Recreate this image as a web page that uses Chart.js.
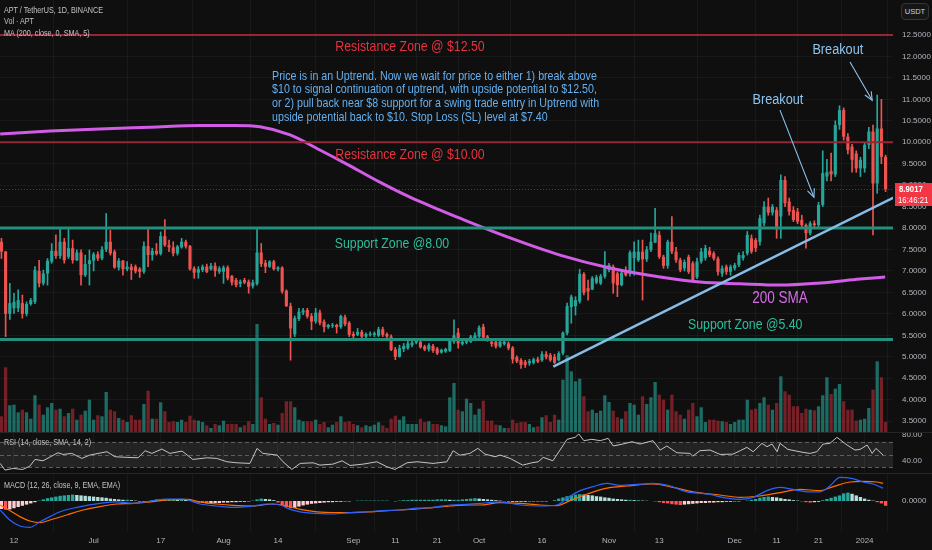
<!DOCTYPE html>
<html lang="en">
<head>
<meta charset="utf-8">
<title>APT / TetherUS, 1D, BINANCE</title>
<script src="https://cdn.jsdelivr.net/npm/chart.js@4.4.1/dist/chart.umd.min.js"></script>
<style>
  html, body { margin: 0; padding: 0; background: #0f0f0f; }
  body { position: relative; width: 932px; height: 550px; overflow: hidden;
         font-family: 'Liberation Sans', Arial, sans-serif; }
  .pane { position: absolute; left: 0; width: 932px; }
  #mainPane { top: 0; height: 432px; }
  #rsiPane { top: 432px; height: 41px; }
  #macdPane { top: 473px; height: 77px; }
  .sep { position: absolute; left: 0; width: 932px; height: 1px; background: #262626; }
  .legend { position: absolute; left: 4px; color: #c3c3c3; font-size: 9px; line-height: 11px; white-space: nowrap;
            transform: scaleX(0.8); transform-origin: 0 0; }
  #usdt { position: absolute; left: 901px; top: 3px; width: 28px; height: 17px; box-sizing: border-box;
          border: 1px solid #353535; border-radius: 4px; background: #161616; color: #d1d4dc;
          font-size: 7.5px; line-height: 15px; text-align: center; }
</style>
</head>
<body>
<div class="pane" id="mainPane"><canvas id="mainChart"></canvas></div>
<div class="pane" id="rsiPane"><canvas id="rsiChart"></canvas></div>
<div class="pane" id="macdPane"><canvas id="macdChart"></canvas></div>
<div class="sep" style="top:432px"></div>
<div class="sep" style="top:473px"></div>
<div class="legend" style="top:5px">APT / TetherUS, 1D, BINANCE</div>
<div class="legend" style="top:16px">Vol · APT</div>
<div class="legend" style="top:28px">MA (200, close, 0, SMA, 5)</div>
<div class="legend" style="top:437px">RSI (14, close, SMA, 14, 2)</div>
<div class="legend" style="top:480px">MACD (12, 26, close, 9, EMA, EMA)</div>
<div id="usdt">USDT</div>

<script>
// Daily candles, first one is 2023-06-09 (index = days since startDate)
const startDate = '2023-06-09';

const opens = [
  7.68, 7.45, 6.00, 6.13, 6.13, 6.25, 6.00, 6.23, 6.28, 7.00,
  6.71, 6.94, 7.22, 7.47, 7.35, 7.68, 7.33, 7.53, 7.25, 7.43,
  6.90, 7.16, 7.24, 7.39, 7.29, 7.50, 7.68, 7.45, 7.08, 7.24,
  7.04, 7.10, 7.10, 7.05, 6.98, 7.58, 7.37, 7.47, 7.40, 7.81,
  7.60, 7.55, 7.41, 7.55, 7.68, 7.58, 7.06, 6.96, 7.02, 7.10,
  7.04, 7.12, 6.98, 6.98, 7.08, 6.88, 6.79, 6.70, 6.79, 6.75,
  6.65, 6.70, 7.43, 7.19, 7.10, 7.22, 7.04, 7.08, 6.54, 6.18,
  5.52, 5.88, 6.03, 6.09, 5.95, 5.82, 6.03, 5.82, 5.69, 5.72,
  5.74, 5.69, 5.92, 5.79, 5.53, 5.51, 5.58, 5.47, 5.51, 5.51,
  5.49, 5.64, 5.53, 5.47, 5.17, 5.00, 5.18, 5.20, 5.27, 5.33,
  5.35, 5.24, 5.17, 5.25, 5.19, 5.10, 5.12, 5.14, 5.35, 5.56,
  5.30, 5.33, 5.35, 5.43, 5.47, 5.70, 5.47, 5.35, 5.35, 5.24,
  5.30, 5.31, 5.21, 4.99, 4.92, 4.88, 4.85, 4.86, 4.94, 4.92,
  5.06, 5.04, 5.00, 4.92, 5.08, 5.55, 6.16, 6.18, 6.29, 6.93,
  6.60, 6.57, 6.73, 6.71, 6.87, 7.02, 7.10, 6.94, 6.67, 7.02,
  6.93, 7.30, 7.25, 7.45, 7.27, 7.49, 7.66, 7.84, 7.33, 7.12,
  7.68, 7.45, 7.26, 7.06, 7.33, 7.18, 6.85, 7.22, 7.30, 7.47,
  7.41, 7.29, 6.94, 7.10, 6.98, 7.06, 7.14, 7.30, 7.41, 7.76,
  7.72, 7.68, 8.11, 8.50, 8.36, 8.42, 8.27, 9.12, 8.62, 8.42,
  8.38, 8.19, 8.07, 7.88, 8.11, 8.07, 8.54, 9.20, 9.33, 9.25,
  10.40, 10.75, 10.13, 9.90, 9.74, 9.39, 9.39, 9.94, 10.25, 9.04,
  10.32, 9.66
];
const highs = [
  7.76, 7.46, 6.71, 6.48, 6.56, 6.44, 6.28, 6.36, 7.10, 7.25,
  7.02, 7.29, 7.64, 7.84, 7.97, 7.76, 7.97, 7.72, 7.49, 7.49,
  7.37, 7.49, 7.43, 7.45, 7.57, 8.34, 7.95, 7.49, 7.29, 7.25,
  7.22, 7.16, 7.14, 7.08, 7.68, 7.99, 7.53, 7.64, 7.91, 8.20,
  7.72, 7.68, 7.60, 7.76, 7.72, 7.60, 7.10, 7.10, 7.14, 7.16,
  7.18, 7.19, 7.10, 7.12, 7.12, 6.90, 6.83, 6.79, 6.83, 6.79,
  6.79, 7.99, 7.64, 7.25, 7.24, 7.25, 7.10, 7.10, 6.56, 6.25,
  5.95, 6.13, 6.13, 6.13, 6.01, 6.13, 6.09, 5.86, 5.76, 5.78,
  5.76, 5.97, 5.97, 5.82, 5.58, 5.66, 5.62, 5.56, 5.58, 5.58,
  5.69, 5.69, 5.56, 5.51, 5.22, 5.27, 5.31, 5.36, 5.40, 5.42,
  5.36, 5.27, 5.31, 5.29, 5.22, 5.18, 5.20, 5.41, 5.86, 5.66,
  5.38, 5.42, 5.50, 5.56, 5.72, 5.76, 5.50, 5.38, 5.38, 5.38,
  5.39, 5.35, 5.24, 5.02, 4.96, 4.92, 4.94, 4.97, 4.99, 5.12,
  5.12, 5.08, 5.06, 5.12, 5.58, 6.25, 6.44, 6.40, 7.04, 6.96,
  6.79, 6.87, 6.90, 6.92, 7.45, 7.18, 7.14, 6.98, 7.02, 7.10,
  7.47, 7.68, 7.72, 7.72, 7.57, 7.88, 8.46, 7.92, 7.37, 7.72,
  8.27, 7.55, 7.30, 7.26, 7.37, 7.22, 7.30, 7.53, 7.60, 7.55,
  7.45, 7.33, 7.12, 7.14, 7.14, 7.18, 7.42, 7.45, 7.92, 7.84,
  7.76, 8.30, 8.62, 8.70, 8.55, 8.48, 9.24, 9.20, 8.70, 8.50,
  8.46, 8.30, 8.10, 8.15, 8.17, 8.60, 9.80, 9.60, 9.75, 10.50,
  10.85, 10.80, 10.20, 9.95, 9.80, 9.65, 10.00, 10.35, 10.40, 11.10,
  11.00, 9.70
];
const lows = [
  7.29, 5.47, 5.87, 6.01, 6.05, 5.90, 5.95, 6.20, 6.24, 6.63,
  6.67, 6.67, 7.18, 7.29, 7.29, 7.18, 7.29, 7.18, 7.24, 6.67,
  6.87, 6.67, 7.00, 7.24, 7.26, 7.45, 7.37, 7.06, 7.02, 6.90,
  7.00, 6.80, 6.95, 6.85, 6.94, 7.10, 7.25, 7.37, 7.37, 7.57,
  7.45, 7.35, 7.37, 7.53, 7.53, 7.02, 6.83, 6.83, 6.98, 6.96,
  7.02, 6.87, 6.94, 6.71, 6.79, 6.67, 6.63, 6.63, 6.70, 6.48,
  6.60, 6.67, 7.10, 6.96, 7.08, 7.02, 7.00, 6.48, 6.17, 4.92,
  5.47, 5.84, 5.98, 5.90, 5.63, 5.78, 5.74, 5.58, 5.66, 5.68,
  5.55, 5.66, 5.72, 5.47, 5.43, 5.49, 5.43, 5.44, 5.48, 5.47,
  5.47, 5.47, 5.44, 5.14, 4.93, 4.99, 5.12, 5.17, 5.23, 5.30,
  5.20, 5.14, 5.13, 5.10, 5.05, 5.08, 5.10, 5.12, 5.31, 5.20,
  5.27, 5.30, 5.33, 5.41, 5.45, 5.43, 5.36, 5.24, 5.20, 5.22,
  5.27, 5.16, 4.85, 4.86, 4.73, 4.75, 4.80, 4.83, 4.86, 4.89,
  4.95, 4.89, 4.84, 4.90, 5.04, 5.51, 5.78, 5.97, 6.25, 6.44,
  6.32, 6.56, 6.70, 6.68, 6.83, 6.98, 6.48, 6.40, 6.65, 6.88,
  6.88, 6.90, 7.22, 6.32, 7.22, 7.45, 7.66, 7.29, 7.06, 7.06,
  7.40, 7.20, 6.98, 7.00, 6.94, 6.75, 6.82, 7.18, 7.25, 7.33,
  7.25, 6.90, 6.87, 6.92, 6.90, 7.02, 7.10, 7.25, 7.37, 7.41,
  7.45, 7.60, 8.05, 8.30, 8.30, 7.76, 7.76, 8.50, 8.30, 8.15,
  8.10, 8.03, 7.53, 7.84, 8.03, 8.03, 8.50, 9.10, 9.10, 9.20,
  10.30, 10.05, 9.73, 9.30, 9.30, 9.20, 9.30, 9.85, 7.84, 8.81,
  9.50, 8.85
];
const closes = [
  7.45, 6.00, 6.25, 6.28, 6.32, 6.00, 6.23, 6.32, 7.02, 6.71,
  6.94, 7.24, 7.47, 7.35, 7.68, 7.25, 7.53, 7.25, 7.43, 6.90,
  7.16, 7.25, 7.39, 7.29, 7.50, 7.68, 7.41, 7.08, 7.24, 7.04,
  7.10, 7.02, 6.99, 6.98, 7.58, 7.37, 7.47, 7.40, 7.81, 7.60,
  7.55, 7.41, 7.57, 7.68, 7.57, 7.04, 6.96, 7.04, 7.10, 6.98,
  7.12, 7.00, 7.06, 7.08, 6.83, 6.73, 6.67, 6.75, 6.73, 6.63,
  6.73, 7.43, 7.16, 7.10, 7.22, 7.04, 7.08, 6.52, 6.18, 5.66,
  5.90, 6.05, 6.08, 5.94, 5.82, 6.03, 5.79, 5.69, 5.74, 5.74,
  5.69, 5.95, 5.76, 5.51, 5.48, 5.58, 5.47, 5.53, 5.53, 5.55,
  5.64, 5.51, 5.47, 5.16, 5.00, 5.20, 5.25, 5.31, 5.33, 5.37,
  5.22, 5.17, 5.27, 5.14, 5.08, 5.16, 5.18, 5.37, 5.50, 5.31,
  5.35, 5.38, 5.47, 5.50, 5.68, 5.45, 5.39, 5.30, 5.24, 5.35,
  5.35, 5.20, 4.94, 4.89, 4.81, 4.81, 4.90, 4.94, 4.89, 5.06,
  4.99, 4.92, 4.86, 5.08, 5.56, 6.18, 6.40, 6.32, 6.93, 6.49,
  6.52, 6.83, 6.85, 6.88, 7.10, 7.14, 6.71, 6.67, 6.96, 6.90,
  7.43, 7.45, 7.45, 7.27, 7.50, 7.68, 7.88, 7.33, 7.12, 7.68,
  7.45, 7.25, 7.02, 7.21, 6.98, 6.79, 7.22, 7.45, 7.53, 7.37,
  7.29, 6.98, 7.06, 6.98, 7.10, 7.14, 7.37, 7.37, 7.84, 7.45,
  7.53, 8.23, 8.50, 8.36, 8.50, 8.03, 9.12, 8.58, 8.38, 8.19,
  8.15, 8.07, 7.88, 8.11, 8.07, 8.54, 9.28, 9.30, 9.25, 10.40,
  10.75, 10.13, 9.82, 9.59, 9.39, 9.59, 9.94, 10.25, 9.04, 10.32,
  9.66, 8.9017
];
// relative daily volume
const volumes = [
  15.7, 64.7, 26.7, 27.3, 19.7, 22.3, 19.7, 13.3, 36.7, 27.3,
  17.3, 24.7, 29, 22.3, 23.3, 15.7, 19, 23.3, 12.3, 17.3,
  21.3, 32.3, 12.3, 16.7, 15.7, 40, 22.3, 20.7, 14, 12.3,
  10, 16.7, 12.3, 12.3, 28, 41.3, 13.3, 13.3, 29.7, 20.7,
  10, 10.7, 10, 12.3, 10, 16.3, 12.3, 11.3, 10, 6.7,
  4, 8, 6.7, 11.3, 8, 8, 8, 4.7, 6.7, 10.7,
  8, 108, 34.7, 13.3, 8, 9, 7.3, 19, 30.7, 30.7,
  24.7, 12.3, 10.7, 10.7, 10.7, 12.3, 8, 10, 4.7, 7.3,
  10, 15.7, 10, 10.7, 8, 6.7, 4.7, 6.7, 5.7, 7.3,
  9.7, 6.7, 4, 13.3, 16.3, 12.3, 15.7, 8, 8, 8,
  13.3, 10, 10.7, 8, 8, 6.7, 5.7, 34.7, 49, 22.3,
  20.7, 33.3, 29, 17.3, 23.3, 31.3, 11.3, 11.3, 7.3, 6.7,
  4, 4, 12.3, 9, 10, 10, 8, 4.7, 5.7, 14.7,
  16.7, 10, 17.3, 12.3, 52.3, 76.7, 60.7, 50.7, 53.3, 35.7,
  20.7, 22.3, 19, 21.3, 36.7, 30, 21.3, 14.7, 13.3, 20.7,
  29, 27.3, 17.3, 35.7, 28, 34.7, 50, 37.3, 32.3, 22.3,
  37.3, 20.7, 17.3, 13.3, 22.3, 29, 15.7, 24.7, 10, 12.3,
  12.3, 11.3, 10.7, 10, 8, 10, 12.3, 12.3, 32.3, 22.3,
  23.3, 29, 34.7, 27.3, 22.3, 29, 55.7, 40.7, 37.3, 25.7,
  25.7, 19, 23.3, 22.3, 21.7, 25.7, 36.7, 54.7, 38, 43.3,
  48, 30.7, 22.3, 22.3, 11.3, 12.3, 13.3, 24, 42.3, 70.7,
  54.7, 10
];

// 200-day SMA, sampled (day index, price)
const smaDays = [-0.3, 11.6, 23.5, 35.5, 47.4, 55.7, 61.7, 68.9, 76.0, 83.2, 90.3, 97.5,
  104.7, 109.4, 121.4, 133.3, 145.2, 157.2, 166.7, 176.3, 185.8, 195.4, 204.9, 210.9];
const smaValues = [10.19, 10.26, 10.31, 10.35, 10.39, 10.39, 10.36, 10.17, 9.82, 9.45, 9.07, 8.72,
  8.42, 8.23, 7.77, 7.37, 7.07, 6.86, 6.74, 6.70, 6.67, 6.72, 6.81, 6.86];

// RSI (14), sampled
const rsiDays = [-0.3, 0.85, 2.8, 5.1, 6.8, 8.0, 9.9, 13.5, 14.7, 16.8, 19.2, 21.1, 25.2, 27.1, 30.0,
  32.6, 34.3, 35.9, 38.3, 40.2, 43.1, 45.7, 49.1, 51.4, 53.8, 56.2, 59.3, 61.0, 62.4, 65.8,
  67.2, 69.3, 71.3, 74.4, 76.0, 79.1, 81.3, 83.2, 86.3, 89.6, 92.0, 93.9, 96.8, 99.2, 103.0,
  106.3, 107.8, 109.4, 111.8, 113.7, 115.4, 117.8, 119.0, 121.4, 124.4, 126.6, 128.1, 129.3,
  131.6, 133.3, 135.0, 136.9, 137.8, 139.0, 140.9, 142.9, 144.8, 146.0, 148.3, 150.5, 152.4,
  155.5, 157.2, 158.8, 161.2, 164.3, 165.0, 166.7, 169.1, 171.5, 174.6, 176.3, 177.9, 179.4,
  181.5, 182.7, 183.9, 185.1, 185.8, 187.7, 191.3, 193.0, 194.6, 196.1, 197.7, 199.4, 201.8,
  203.7, 204.9, 206.6, 207.8, 208.7, 210.4];
const rsiValues = [36.2, 25.8, 28.4, 26.8, 32, 42.4, 40.3, 52.8, 50.2, 51.8, 44, 49.2, 54.4, 46.6, 45.6,
  45, 56, 51.8, 58.6, 51.8, 55.4, 42.4, 45, 44, 38.8, 37.2, 36.2, 59.6, 51.8, 49.2,
  38.8, 26.8, 36.2, 37.2, 33.6, 35.1, 40.3, 33, 35.1, 38.8, 31, 26.8, 37.2, 38.8, 36.2,
  38.8, 56, 49, 51.8, 59.6, 50.7, 46.6, 49.2, 44, 33.6, 37.2, 38.8, 45.6,
  40.3, 57, 73.7, 76.8, 82, 71.6, 73.7, 71.6, 75.2, 63.3, 66.4, 70, 66.4,
  71.6, 57, 63.3, 52.8, 51.8, 47.6, 56, 57, 50.2, 50.7, 56, 61.2, 54.4,
  67.4, 62.2, 66.4, 54.4, 67.4, 58, 53.4, 51.8, 54.4, 66.4, 67.4, 76.8, 64.8,
  57, 58, 64.8, 51.8, 59.6, 49.2];
const rsiUpper = 70, rsiMid = 50, rsiLower = 30;

// MACD (12, 26, 9), sampled lines + daily histogram
const macdDays = [-0.3, 2.0, 4.4, 6.8, 9.2, 11.6, 14.0, 18.0, 23.5, 27.6, 31.4, 35.5, 39.5, 43.3,
  47.4, 51.4, 55.3, 60.0, 63.4, 66.5, 68.9, 71.3, 75.3, 79.1, 83.2, 87.2, 91.1, 95.1, 99.2,
  103.0, 107.1, 111.8, 114.2, 119.0, 123.8, 128.5, 132.6, 135.0, 138.1, 141.2, 144.5, 147.6,
  152.4, 155.5, 158.8, 163.6, 168.4, 173.2, 176.3, 179.4, 182.7, 185.8, 188.9, 192.3, 195.4,
  197.7, 200.1, 203.2, 205.6, 208.0, 210.4];
const macdValues = [-0.225, -0.475, -0.625, -0.66, -0.52, -0.39, -0.27, -0.16, -0.06, -0.02, -0.06,
  0.0, 0.05, 0.05, -0.075, -0.125, -0.16, -0.125, -0.075, -0.1, -0.21, -0.27, -0.31, -0.325, -0.29,
  -0.27, -0.24, -0.225, -0.18, -0.16, -0.1, -0.08, -0.06, -0.02, -0.1, -0.125, -0.1, 0.07, 0.26,
  0.36, 0.44, 0.39, 0.42, 0.44, 0.40, 0.23, 0.175, 0.07, 0.04, 0.09, 0.26, 0.34, 0.29, 0.23, 0.23,
  0.375, 0.59, 0.56, 0.475, 0.425, 0.32];
const signalDays = [-0.3, 2.0, 4.4, 6.8, 9.2, 11.6, 15.6, 19.5, 23.5, 27.6, 31.4, 35.5, 39.5, 44.3,
  47.4, 51.4, 55.3, 60.0, 64.8, 68.2, 71.3, 75.3, 79.1, 83.2, 87.2, 91.1, 95.1, 99.2, 103.0,
  107.1, 111.8, 114.2, 119.0, 123.8, 128.5, 132.6, 135.7, 139.8, 144.5, 149.3, 155.5, 160.3,
  165.0, 171.5, 176.3, 181.0, 185.8, 190.6, 195.4, 198.5, 202.5, 205.6, 208.9, 210.4];
const signalValues = [-0.1, -0.24, -0.39, -0.5, -0.54, -0.475, -0.35, -0.225, -0.14, -0.075, -0.06,
  -0.02, 0.025, 0.04, -0.02, -0.075, -0.11, -0.125, -0.075, -0.125, -0.21, -0.27, -0.29, -0.29,
  -0.275, -0.25, -0.225, -0.2, -0.165, -0.125, -0.1, -0.1, -0.04, -0.06, -0.1, -0.115, 0.01, 0.175,
  0.32, 0.375, 0.425, 0.34, 0.23, 0.15, 0.09, 0.125, 0.21, 0.29, 0.26, 0.36, 0.475, 0.49, 0.475, 0.44];
const histValues = [
  -0.20, -0.22, -0.21, -0.18, -0.15, -0.12, -0.09, -0.06, -0.03, 0.01,
  0.04, 0.07, 0.09, 0.11, 0.13, 0.14, 0.15, 0.16, 0.15, 0.14,
  0.13, 0.12, 0.11, 0.10, 0.09, 0.08, 0.06, 0.05, 0.04, 0.03,
  0.03, 0.02, 0.01, -0.02, -0.03, -0.01, 0.02, 0.04, 0.05, 0.05,
  0.05, 0.05, 0.04, 0.04, 0.03, 0.02, -0.02, -0.04, -0.05, -0.06,
  -0.06, -0.05, -0.05, -0.04, -0.04, -0.03, -0.03, -0.02, -0.02, -0.01,
  0.01, 0.04, 0.06, 0.05, 0.04, 0.02, -0.04, -0.10, -0.15, -0.18,
  -0.17, -0.14, -0.11, -0.09, -0.07, -0.06, -0.05, -0.04, -0.03, -0.03,
  -0.02, -0.02, -0.01, -0.01, 0.00, 0.01, 0.01, 0.01, 0.01, 0.01,
  0.01, 0.01, 0.01, 0.00, -0.01, 0.01, 0.02, 0.02, 0.03, 0.03,
  0.03, 0.03, 0.03, 0.03, 0.04, 0.04, 0.04, 0.03, 0.03, 0.03,
  0.04, 0.05, 0.06, 0.07, 0.06, 0.05, 0.04, 0.03, 0.02, 0.01,
  -0.01, -0.02, -0.02, -0.02, -0.02, -0.02, -0.01, -0.01, -0.01, -0.01,
  -0.01, 0.00, 0.02, 0.06, 0.09, 0.12, 0.14, 0.16, 0.17, 0.16,
  0.15, 0.14, 0.12, 0.11, 0.09, 0.08, 0.06, 0.05, 0.04, 0.03,
  0.03, 0.02, 0.02, 0.01, 0.01, 0.00, -0.01, -0.03, -0.05, -0.06,
  -0.08, -0.09, -0.10, -0.09, -0.08, -0.07, -0.06, -0.05, -0.05, -0.04,
  -0.04, -0.03, -0.03, -0.02, -0.02, -0.01, -0.01, 0.00, 0.01, 0.03,
  0.05, 0.08, 0.10, 0.11, 0.10, 0.09, 0.07, 0.05, 0.04, 0.02,
  0.01, -0.01, -0.03, -0.04, -0.03, -0.02, 0.02, 0.05, 0.08, 0.11,
  0.14, 0.19, 0.21, 0.18, 0.14, 0.10, 0.06, 0.03, 0.01, -0.03,
  -0.06, -0.12
];

// axis ticks
const tickDates = ['2023-06-12', '2023-07-01', '2023-07-17', '2023-08-01', '2023-08-14', '2023-09-01',
  '2023-09-11', '2023-09-21', '2023-10-01', '2023-10-16', '2023-11-01', '2023-11-13', '2023-12-01',
  '2023-12-11', '2023-12-21', '2024-01-01'];
const tickLabels = ['12', 'Jul', '17', 'Aug', '14', 'Sep', '11', '21', 'Oct', '16', 'Nov', '13', 'Dec', '11', '21', '2024'];
const priceTicks = [3.5, 4, 4.5, 5, 5.5, 6, 6.5, 7, 7.5, 8, 8.5, 9, 9.5, 10, 10.5, 11, 11.5, 12, 12.5];
const rsiTicks = [40, 80];
const macdTicks = [0];

// drawings on the chart
const resistanceLevels = [12.5, 10.0];
const supportLevels = [8.0, 5.4];
const trendDays = [131.7, 213.3];
const trendPrices = [4.77, 8.73];
const noteTexts = ['Resistance Zone @ $12.50', 'Resistance Zone @ $10.00', 'Support Zone @8.00',
  'Support Zone @5.40', '200 SMA', 'Breakout', 'Breakout'];
const noteKinds = ['res', 'res', 'sup', 'sup', 'ma', 'brk', 'brk'];
const noteDays = [97.5, 97.5, 93.2, 177.5, 185.8, 199.6, 185.3];
const notePrices = [12.22, 9.70, 7.63, 5.74, 6.37, 12.15, 10.98];
const arrowFrom = [[202.5, 11.87], [185.8, 10.75]];
const arrowTo = [[207.8, 10.98], [193.9, 8.72]];
const commentLines = [
  'Price is in an Uptrend. Now we wait for price to either 1) break above',
  '$10 to signal continuation of uptrend, with upside potential to $12.50,',
  'or 2) pull back near $8 support for a swing trade entry in Uptrend with',
  'upside potential back to $10. Stop Loss (SL) level at $7.40'
];
const commentDay = 64.6, commentPrice = 11.54;
const countdown = '16:46:21';

// ---------- styling ----------
const FONT = "'Liberation Sans', Arial, sans-serif";
Chart.defaults.font.family = FONT;
Chart.defaults.color = '#b2b5be';

const upColor = '#26a69a', downColor = '#ef5350';
const gridColor = 'rgba(255,255,255,0.045)';
const axisW = 39;
const squeeze = 0.82;   // the screenshot text is horizontally narrow
const noteStyle = {
  res: { color: '#e5333f', size: 15 },
  sup: { color: '#2bbf9c', size: 15 },
  ma:  { color: '#d66be9', size: 16.5 },
  brk: { color: '#8fc4ee', size: 15.5 }
};

const dayOf = d => Math.round((Date.parse(d) - Date.parse(startDate)) / 864e5);
const tickDays = tickDates.map(dayOf);
const days = closes.map((_, i) => i);
const isUp = days.map(i => closes[i] >= opens[i]);
const candleColors = isUp.map(u => u ? upColor : downColor);
const volColors = isUp.map(u => u ? 'rgba(38,166,154,0.62)' : 'rgba(242,54,69,0.45)');
const histColors = histValues.map((v, i) => {
  const prev = i ? histValues[i - 1] : v;
  if (v >= 0) return v >= prev ? '#26a69a' : '#b2dfdb';
  return v < prev ? '#ff5252' : '#ffcdd2';
});

const xMin = -0.34, xMax = 212.77;

function xScale(showLabels) {
  return {
    type: 'linear', min: xMin, max: xMax, offset: false,
    grid: { color: gridColor, drawTicks: false },
    border: { display: false },
    ticks: {
      display: showLabels, autoSkip: false, maxRotation: 0, padding: 4,
      color: '#b2b5be', font: { size: 8 },
      callback: (v, i) => tickLabels[i]
    },
    afterBuildTicks: s => { s.ticks = tickDays.map(v => ({ value: v })); },
    afterFit: s => { s.paddingLeft = 0; s.paddingRight = 0; s.height = showLabels ? 18 : 0; }
  };
}

function yScale(min, max, ticks, digits, showGrid) {
  return {
    type: 'linear', position: 'right', min: min, max: max,
    grid: { display: showGrid, color: gridColor, drawTicks: false },
    border: { display: false },
    ticks: {
      padding: 9, crossAlign: 'near', color: '#b2b5be', font: { size: 8 },
      callback: v => Number(v).toFixed(digits)
    },
    afterBuildTicks: s => { s.ticks = ticks.map(v => ({ value: v })); },
    afterFit: s => { s.width = axisW; s.paddingTop = 0; s.paddingBottom = 0; }
  };
}

function drawArrow(ctx, x1, y1, x2, y2) {
  ctx.beginPath(); ctx.moveTo(x1, y1); ctx.lineTo(x2, y2); ctx.stroke();
  const ang = Math.atan2(y2 - y1, x2 - x1), len = 9;
  ctx.beginPath();
  ctx.moveTo(x2 - len * Math.cos(ang - 0.42), y2 - len * Math.sin(ang - 0.42));
  ctx.lineTo(x2, y2);
  ctx.lineTo(x2 - len * Math.cos(ang + 0.42), y2 - len * Math.sin(ang + 0.42));
  ctx.stroke();
}

// text drawn narrower, like the original screenshot
function narrowText(ctx, text, px, py) {
  ctx.save();
  ctx.translate(px, py);
  ctx.scale(squeeze, 1);
  ctx.fillText(text, 0, 0);
  ctx.restore();
}

// lines, trend line, arrows and text drawn on the price pane
const priceDrawings = {
  id: 'priceDrawings',
  afterDatasetsDraw(chart) {
    const { ctx, chartArea: a, scales: { x, y } } = chart;
    ctx.save();
    ctx.beginPath(); ctx.rect(a.left, a.top, a.width, a.height); ctx.clip();

    // last price line
    const lastPrice = closes[closes.length - 1];
    const yp = y.getPixelForValue(lastPrice);
    ctx.strokeStyle = 'rgba(242,54,69,0.55)'; ctx.lineWidth = 1; ctx.setLineDash([1, 2]);
    ctx.beginPath(); ctx.moveTo(a.left, Math.round(yp) + 0.5); ctx.lineTo(a.right, Math.round(yp) + 0.5); ctx.stroke();
    ctx.setLineDash([]);

    resistanceLevels.forEach(p => {
      const yy = y.getPixelForValue(p);
      ctx.strokeStyle = '#952633'; ctx.lineWidth = 2.2;
      ctx.beginPath(); ctx.moveTo(a.left, yy); ctx.lineTo(a.right, yy); ctx.stroke();
    });
    supportLevels.forEach(p => {
      const yy = y.getPixelForValue(p);
      ctx.strokeStyle = '#22907c'; ctx.lineWidth = 3;
      ctx.beginPath(); ctx.moveTo(a.left, yy); ctx.lineTo(a.right, yy); ctx.stroke();
    });

    // trend line
    ctx.strokeStyle = '#86bde8'; ctx.lineWidth = 2.6;
    ctx.beginPath();
    ctx.moveTo(x.getPixelForValue(trendDays[0]), y.getPixelForValue(trendPrices[0]));
    ctx.lineTo(x.getPixelForValue(trendDays[1]), y.getPixelForValue(trendPrices[1]));
    ctx.stroke();

    // arrows
    ctx.strokeStyle = '#8fc4ee'; ctx.lineWidth = 1.1;
    arrowFrom.forEach((f, i) => {
      const t = arrowTo[i];
      drawArrow(ctx, x.getPixelForValue(f[0]), y.getPixelForValue(f[1]),
                     x.getPixelForValue(t[0]), y.getPixelForValue(t[1]));
    });

    // labels
    ctx.textAlign = 'center'; ctx.textBaseline = 'middle';
    noteTexts.forEach((t, i) => {
      const st = noteStyle[noteKinds[i]];
      ctx.fillStyle = st.color;
      ctx.font = `${st.size}px ${FONT}`;
      narrowText(ctx, t, x.getPixelForValue(noteDays[i]), y.getPixelForValue(notePrices[i]));
    });

    // comment block
    ctx.textAlign = 'left'; ctx.fillStyle = '#64b0f0'; ctx.font = `13px ${FONT}`;
    const cx = x.getPixelForValue(commentDay), cy = y.getPixelForValue(commentPrice);
    commentLines.forEach((t, i) => narrowText(ctx, t, cx, cy + i * 13.6));
    ctx.restore();
  },
  afterDraw(chart) {
    const { ctx, chartArea: a, scales: { y } } = chart;
    const lastPrice = closes[closes.length - 1];
    const yp = y.getPixelForValue(lastPrice);
    ctx.save();
    ctx.fillStyle = '#f23645';
    ctx.fillRect(a.right + 2, Math.round(yp) - 6, axisW - 2, 23);
    ctx.fillStyle = '#ffffff'; ctx.textAlign = 'left'; ctx.textBaseline = 'middle';
    ctx.font = `bold 9.5px ${FONT}`;
    narrowText(ctx, lastPrice.toFixed(4), a.right + 6, yp);
    ctx.font = `9.5px ${FONT}`;
    narrowText(ctx, countdown, a.right + 5, yp + 11);
    ctx.restore();
  }
};

const rsiBands = {
  id: 'rsiBands',
  beforeDatasetsDraw(chart) {
    const { ctx, chartArea: a, scales: { y } } = chart;
    const yt = y.getPixelForValue(rsiUpper), ym = y.getPixelForValue(rsiMid), yb = y.getPixelForValue(rsiLower);
    ctx.save();
    ctx.fillStyle = 'rgba(255,255,255,0.085)';
    ctx.fillRect(a.left, yt, a.width, yb - yt);
    ctx.strokeStyle = '#5e5e5e'; ctx.lineWidth = 1; ctx.setLineDash([4, 3]);
    [yt, ym, yb].forEach(v => {
      ctx.beginPath(); ctx.moveTo(a.left, Math.round(v) + 0.5); ctx.lineTo(a.right, Math.round(v) + 0.5); ctx.stroke();
    });
    ctx.restore();
  }
};

const common = {
  responsive: true, maintainAspectRatio: false, animation: false,
  layout: { padding: 0 },
  plugins: { legend: { display: false }, tooltip: { enabled: false } },
  events: []
};

// ---------- price pane ----------
new Chart(document.getElementById('mainChart'), {
  type: 'bar',
  data: {
    datasets: [
      {
        type: 'line', label: 'MA 200', yAxisID: 'y', order: 0,
        data: smaDays.map((d, i) => ({ x: d, y: smaValues[i] })),
        borderColor: '#d15de6', borderWidth: 3, pointRadius: 0, cubicInterpolationMode: 'monotone'
      },
      {
        label: 'Body', yAxisID: 'y', order: 1, grouped: false,
        data: days.map(i => ({ x: i, y: [Math.min(opens[i], closes[i]), Math.max(opens[i], closes[i])] })),
        backgroundColor: candleColors, barPercentage: 0.75, categoryPercentage: 1, minBarLength: 1
      },
      {
        label: 'Wick', yAxisID: 'y', order: 2, grouped: false,
        data: days.map(i => ({ x: i, y: [lows[i], highs[i]] })),
        backgroundColor: candleColors, barThickness: 1
      },
      {
        label: 'Volume', yAxisID: 'yv', order: 3, grouped: false,
        data: days.map(i => ({ x: i, y: volumes[i] })),
        backgroundColor: volColors, barPercentage: 0.78, categoryPercentage: 1
      }
    ]
  },
  options: Object.assign({}, common, {
    scales: {
      x: xScale(false),
      y: yScale(3.246, 13.316, priceTicks, 4, true),
      yv: { type: 'linear', display: false, min: 0, max: 432 }
    }
  }),
  plugins: [priceDrawings]
});

// ---------- RSI pane ----------
new Chart(document.getElementById('rsiChart'), {
  type: 'line',
  data: {
    datasets: [{
      label: 'RSI', data: rsiDays.map((d, i) => ({ x: d, y: rsiValues[i] })),
      borderColor: '#c4c4c4', borderWidth: 1, pointRadius: 0, tension: 0
    }]
  },
  options: Object.assign({}, common, {
    scales: { x: xScale(false), y: yScale(21.3, 85.1, rsiTicks, 2, false) }
  }),
  plugins: [rsiBands]
});

// ---------- MACD pane ----------
new Chart(document.getElementById('macdChart'), {
  type: 'bar',
  data: {
    datasets: [
      {
        type: 'line', label: 'MACD', order: 0,
        data: macdDays.map((d, i) => ({ x: d, y: macdValues[i] })),
        borderColor: '#2962ff', borderWidth: 1.2, pointRadius: 0, cubicInterpolationMode: 'monotone'
      },
      {
        type: 'line', label: 'Signal', order: 1,
        data: signalDays.map((d, i) => ({ x: d, y: signalValues[i] })),
        borderColor: '#ff6d00', borderWidth: 1.2, pointRadius: 0, cubicInterpolationMode: 'monotone'
      },
      {
        label: 'Histogram', order: 2, grouped: false,
        data: days.map(i => ({ x: i, y: histValues[i] })),
        backgroundColor: histColors, barPercentage: 0.8, categoryPercentage: 1
      }
    ]
  },
  options: Object.assign({}, common, {
    scales: { x: xScale(true), y: yScale(-0.775, 0.7, macdTicks, 4, false) }
  })
});
</script>
</body>
</html>
